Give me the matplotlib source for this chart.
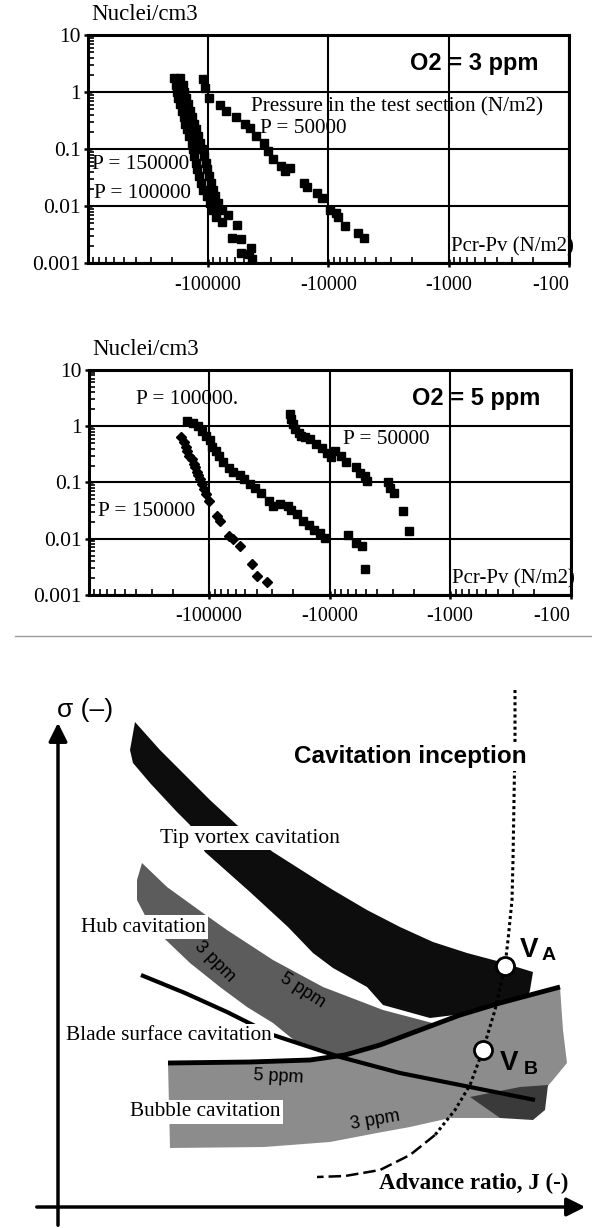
import numpy as np
import matplotlib.pyplot as plt
from matplotlib import ticker
from matplotlib.lines import Line2D

# ---------------- nuclei data, O2 = 3 ppm (Pcr-Pv N/m2, nuclei/cm3) ----------------
p150_3_x = [-192000, -185000, -182000, -178000, -172000, -165000, -159000, -154000, -148000,
            -143000, -137000, -132000, -130000, -126000, -123000, -119000, -114000, -110000,
            -102000, -96500, -91700, -85300, -76400, -63700, -53200, -42800]
p150_3_y = [1.74, 1.35, 1.0, 0.79, 0.61, 0.47, 0.36, 0.28, 0.22, 0.168, 0.129, 0.1, 0.076,
            0.058, 0.044, 0.033, 0.025, 0.019, 0.0147, 0.0112, 0.0085, 0.0065, 0.0053,
            0.0027, 0.0015, 0.00118]

p100_3_x = [-172000, -162000, -157000, -151000, -146000, -141000, -135000, -131000, -126000,
            -121000, -117000, -113000, -108000, -104500, -102000, -98600, -95000, -91700,
            -87100, -82200, -76400, -68500, -57100, -53200, -44300, -46000]
p100_3_y = [1.74, 1.35, 1.0, 0.79, 0.61, 0.47, 0.36, 0.28, 0.22, 0.168, 0.129, 0.1, 0.076,
            0.058, 0.044, 0.033, 0.025, 0.019, 0.0147, 0.0112, 0.0085, 0.0070, 0.0047,
            0.0026, 0.0018, 0.00146]

p50_3_x = [-110000, -106000, -98000, -79000, -71000, -59000, -49500, -44500, -40000, -34500,
           -32000, -28700, -24700, -20700, -23000, -16000, -15000, -12500, -11200, -9600,
           -8700, -8300, -7250, -5650, -5100]
p50_3_y = [1.7, 1.17, 0.79, 0.6, 0.47, 0.36, 0.28, 0.23, 0.17, 0.13, 0.093, 0.066, 0.05,
           0.047, 0.041, 0.025, 0.022, 0.017, 0.0137, 0.0085, 0.0075, 0.0063, 0.0045,
           0.0033, 0.0028]

# ---------------- nuclei data, O2 = 5 ppm ----------------
p150_5_x = [-171000, -161000, -156000, -151000, -146000, -139000, -134000, -130000, -126000,
            -123000, -118000, -114000, -110000, -106000, -100000, -85300, -80400, -68500,
            -62800, -55100, -44300, -39800, -33200]
p150_5_y = [0.656, 0.53, 0.435, 0.36, 0.30, 0.26, 0.215, 0.19, 0.156, 0.138, 0.114, 0.093,
            0.076, 0.062, 0.047, 0.0252, 0.0205, 0.011, 0.01, 0.0074, 0.0036, 0.0022, 0.0017]

p100_5_x = [-153000, -137000, -123000, -114000, -106000, -98600, -95000, -88300, -82200,
            -76400, -68500, -63700, -55100, -51300, -45900, -41200, -37000, -32000, -29700,
            -25700, -22200, -20700, -18500, -16600, -14900, -13400, -12000, -10800, -6980,
            -6040, -5420, -5050]
p100_5_y = [1.25, 1.16, 1.0, 0.83, 0.68, 0.56, 0.435, 0.36, 0.30, 0.23, 0.178, 0.156, 0.138,
            0.114, 0.093, 0.081, 0.066, 0.047, 0.038, 0.041, 0.038, 0.033, 0.027, 0.0205,
            0.0178, 0.0145, 0.0126, 0.0103, 0.0118, 0.0084, 0.0074, 0.0029]

p50_5_x = [-21400, -20700, -19900, -19200, -17900, -17200, -16000, -14400, -12900, -11600,
           -10400, -9640, -8980, -8060, -7230, -6040, -5620, -5050, -4870, -3280, -3170,
           -2940, -2460, -2210]
p50_5_y = [1.68, 1.35, 1.08, 0.88, 0.77, 0.68, 0.64, 0.60, 0.49, 0.41, 0.34, 0.28, 0.36,
           0.30, 0.23, 0.19, 0.147, 0.129, 0.107, 0.1, 0.081, 0.066, 0.031, 0.0136]

x_ticks = [1e5, 1e4, 1e3, 1e2]
x_ticklabels = ['-100000', '-10000', '-1000', '-100']
y_ticks = [10, 1, 0.1, 0.01, 0.001]
y_ticklabels = ['10', '1', '0.1', '0.01', '0.001']

# ---------------- cavitation inception sketch (J, sigma in arbitrary units) ----------------
tip_J = [7.7, 10.2, 12.9, 15.2, 17.9, 21.5, 25.9, 27.5, 30.9, 34.2, 37.5, 40.9, 43.9, 47.5,
         47.2, 46.9, 42.2, 37.2, 32.5, 30.9, 27.5, 25.5, 23.0, 19.2, 14.7, 13.2, 11.9, 9.2,
         7.5, 7.2]
tip_sig = [48.5, 45.7, 43.0, 40.7, 38.2, 35.5, 32.7, 31.7, 29.7, 28.0, 26.5, 25.4, 24.6, 23.5,
           21.7, 20.7, 19.5, 18.9, 20.2, 22.0, 23.9, 25.4, 28.0, 31.5, 35.5, 38.2, 39.5, 42.4,
           44.4, 45.7]

hub_J = [8.4, 10.9, 14.5, 16.9, 21.5, 26.5, 32.5, 38.2, 38.2, 28.2, 24.2, 21.5, 18.9, 16.2,
         13.2, 11.0, 9.2, 7.9, 7.9]
hub_sig = [34.4, 32.0, 29.4, 27.7, 24.7, 22.0, 19.7, 18.2, 13.7, 14.9, 16.2, 18.4, 20.0, 22.0,
           24.4, 26.5, 28.2, 30.7, 32.7]

bub_top_J = [11.0, 19.2, 25.2, 28.7, 32.2, 36.2, 40.2, 44.2, 47.2, 50.2]
bub_top_sig = [14.4, 14.5, 14.7, 15.2, 16.2, 17.7, 19.2, 20.4, 21.2, 22.0]
bub_rest_J = [50.5, 50.9, 49.5, 48.2, 47.5, 44.2, 39.2, 35.2, 31.9, 27.2, 20.6, 11.2]
bub_rest_sig = [17.7, 14.4, 12.7, 11.2, 9.4, 8.9, 8.9, 8.0, 7.4, 6.5, 6.0, 5.9]

tail_J = [41.2, 46.2, 49.0, 48.7, 47.5, 44.2]
tail_sig = [11.0, 12.0, 12.2, 9.7, 8.7, 8.9]

blade_J = [8.3, 12.7, 16.9, 21.5, 28.2, 34.2, 39.2, 44.2, 47.7]
blade_sig = [23.2, 21.4, 19.5, 17.2, 15.0, 13.4, 12.4, 11.4, 10.7]

line_dot_J = [45.7, 45.7, 45.6, 45.5, 45.4, 45.0, 44.7, 43.7, 42.5, 41.2, 39.7, 37.7]
line_dot_sig = [51.7, 46.7, 40.7, 34.7, 30.7, 26.7, 24.1, 19.7, 15.7, 12.2, 9.7, 7.2]
line_dash_J = [37.7, 35.2, 32.2, 28.7, 25.9]
line_dash_sig = [7.2, 5.2, 3.7, 3.1, 3.0]

vA = (44.7, 24.1)
vB = (42.5, 15.7)

serif = 'Liberation Serif'
sans = 'Liberation Sans'

fig = plt.figure(figsize=(5.92, 12.28), dpi=100)


def setup_nuclei(ax, title):
    ax.set_xscale('log')
    ax.set_yscale('log')
    ax.set_xlim(1e6, 1e2)
    ax.set_ylim(1e-3, 10)
    ax.set_xticks(x_ticks)
    ax.set_xticklabels(x_ticklabels, fontfamily=serif, fontsize=14.5)
    ax.get_xticklabels()[-1].set_ha('right')   # "-100" sits left of the right edge
    ax.set_yticks(y_ticks)
    ax.set_yticklabels(y_ticklabels, fontfamily=serif, fontsize=15.5)
    ax.xaxis.set_minor_locator(ticker.LogLocator(base=10, subs=np.arange(2, 10), numticks=20))
    ax.yaxis.set_minor_locator(ticker.LogLocator(base=10, subs=np.arange(2, 10), numticks=20))
    ax.xaxis.set_minor_formatter(ticker.NullFormatter())
    ax.yaxis.set_minor_formatter(ticker.NullFormatter())
    ax.tick_params(which='major', direction='inout', length=6, width=1.8)
    ax.tick_params(axis='x', which='major', pad=6)
    ax.tick_params(axis='y', which='major', pad=2)
    ax.tick_params(which='minor', direction='in', length=4, width=1.2)
    ax.grid(True, which='major', color='black', lw=1.5)
    for s in ax.spines.values():
        s.set_linewidth(2.2)
    ax.text(0.007, 1.09, 'Nuclei/cm3', transform=ax.transAxes, fontfamily=serif,
            fontsize=16.5, ha='left', va='center')
    ax.text(1.01, 0.07, 'Pcr-Pv (N/m2)', transform=ax.transAxes, fontfamily=serif,
            fontsize=15, ha='right', va='center')
    ax.text(0.937, 0.875, title, transform=ax.transAxes, fontfamily=sans,
            fontweight='bold', fontsize=17, ha='right', va='center')


# top chart: 3 ppm
ax1 = fig.add_axes([0.148, 0.7858, 0.8133, 0.1857])
setup_nuclei(ax1, 'O2 = 3 ppm')
ms = 5.8
ax1.plot(-np.array(p150_3_x), p150_3_y, 's', color='black', ms=ms)
ax1.plot(-np.array(p100_3_x), p100_3_y, 's', color='black', ms=ms)
ax1.plot(-np.array(p50_3_x), p50_3_y, 's', color='black', ms=ms)
ax1.text(0.946, 0.684, 'Pressure in the test section (N/m2)', transform=ax1.transAxes,
         fontfamily=serif, fontsize=15.2, ha='right', va='center')
ax1.text(0.358, 0.592, 'P = 50000', transform=ax1.transAxes, fontfamily=serif,
         fontsize=15.3, ha='left', va='center')
ax1.text(0.009, 0.43, 'P = 150000', transform=ax1.transAxes, fontfamily=serif,
         fontsize=15.3, ha='left', va='center')
ax1.text(0.0135, 0.307, 'P = 100000', transform=ax1.transAxes, fontfamily=serif,
         fontsize=15.3, ha='left', va='center')

# middle chart: 5 ppm
ax2 = fig.add_axes([0.1495, 0.5155, 0.8142, 0.1832])
setup_nuclei(ax2, 'O2 = 5 ppm')
ax2.plot(-np.array(p150_5_x), p150_5_y, 'D', color='black', ms=5.3)
ax2.plot(-np.array(p100_5_x), p100_5_y, 's', color='black', ms=ms)
ax2.plot(-np.array(p50_5_x), p50_5_y, 's', color='black', ms=ms)
ax2.text(0.099, 0.871, 'P = 100000.', transform=ax2.transAxes, fontfamily=serif,
         fontsize=15.3, ha='left', va='center')
ax2.text(0.528, 0.689, 'P = 50000', transform=ax2.transAxes, fontfamily=serif,
         fontsize=15.3, ha='left', va='center')
ax2.text(0.02, 0.369, 'P = 150000', transform=ax2.transAxes, fontfamily=serif,
         fontsize=15.3, ha='left', va='center')

# separator line between the scans
fig.add_artist(Line2D([0.025, 1.0], [1 - 636 / 1228] * 2, color='#9a9a9a', lw=1))

# bottom sketch
ax3 = fig.add_axes([0, 0, 1, 578 / 1228])
ax3.set_xlim(-5.8, 53.4)
ax3.set_ylim(-2.1, 55.7)
ax3.axis('off')

ax3.fill(hub_J, hub_sig, color='#5c5c5c', lw=0, zorder=1)
ax3.fill(tip_J, tip_sig, color='#0d0d0d', lw=0, zorder=2)
ax3.fill(bub_top_J + bub_rest_J, bub_top_sig + bub_rest_sig, color='#8c8c8c', lw=0, zorder=3)
ax3.fill(tail_J, tail_sig, color='#3a3a3a', lw=0, zorder=3.5)
ax3.plot(bub_top_J, bub_top_sig, color='black', lw=3.5, solid_capstyle='butt', zorder=4)
ax3.plot(blade_J, blade_sig, color='black', lw=3, solid_capstyle='butt', zorder=4)
ax3.plot(line_dot_J, line_dot_sig, color='black', lw=2.2, ls=(0, (1, 1)), zorder=5)
ax3.plot(line_dash_J, line_dash_sig, color='black', lw=1.8, ls=(0, (5, 2)), zorder=5)
ax3.plot(*vA, 'o', ms=13, mfc='white', mec='black', mew=2, zorder=6)
ax3.plot(*vB, 'o', ms=13, mfc='white', mec='black', mew=2, zorder=6)

# axes arrows
ax3.annotate('', xy=(0, 48.7), xytext=(0, -2.1),
             arrowprops=dict(arrowstyle='-|>', lw=2.5, color='black', mutation_scale=28))
ax3.annotate('', xy=(53.0, 0), xytext=(-2.4, 0),
             arrowprops=dict(arrowstyle='-|>', lw=2.5, color='black', mutation_scale=28))

box = dict(facecolor='white', edgecolor='none', pad=1.5)
ax3.text(-0.1, 49.7, 'σ (–)', fontfamily=sans, fontsize=19, ha='left', va='center')
ax3.text(23.6, 45.0, 'Cavitation inception', fontfamily=sans, fontweight='bold',
         fontsize=17.5, ha='left', va='center', bbox=box, zorder=8)
ax3.text(10.2, 36.9, 'Tip vortex cavitation', fontfamily=serif, fontsize=15.5,
         ha='left', va='center', bbox=box, zorder=8)
ax3.text(2.3, 28.0, 'Hub cavitation', fontfamily=serif, fontsize=15.2,
         ha='left', va='center', bbox=box, zorder=8)
ax3.text(0.8, 17.1, 'Blade surface cavitation', fontfamily=serif, fontsize=15.3,
         ha='left', va='center', bbox=box, zorder=8)
ax3.text(7.2, 9.5, 'Bubble cavitation', fontfamily=serif, fontsize=15.3,
         ha='left', va='center', bbox=box, zorder=8)
ax3.text(32.1, 2.4, 'Advance ratio, J (-)', fontfamily=serif, fontweight='bold',
         fontsize=16.5, ha='left', va='center', zorder=8)

ax3.text(15.7, 24.5, '3 ppm', fontfamily=sans, fontsize=13, rotation=-45,
         ha='center', va='center', zorder=8)
ax3.text(24.5, 21.7, '5 ppm', fontfamily=sans, fontsize=13, rotation=-33,
         ha='center', va='center', zorder=8)
ax3.text(22.0, 13.0, '5 ppm', fontfamily=sans, fontsize=13, rotation=-3,
         ha='center', va='center', zorder=8)
ax3.text(31.7, 8.7, '3 ppm', fontfamily=sans, fontsize=13, rotation=10,
         ha='center', va='center', zorder=8)

ax3.text(47.1, 25.7, 'V', fontfamily=sans, fontweight='bold', fontsize=20,
         ha='center', va='center', zorder=8)
ax3.text(49.1, 25.1, 'A', fontfamily=sans, fontweight='bold', fontsize=14,
         ha='center', va='center', zorder=8)
ax3.text(45.1, 14.4, 'V', fontfamily=sans, fontweight='bold', fontsize=20,
         ha='center', va='center', zorder=8)
ax3.text(47.3, 13.8, 'B', fontfamily=sans, fontweight='bold', fontsize=14,
         ha='center', va='center', zorder=8)

fig.savefig('out.png', dpi=100, facecolor='white')
